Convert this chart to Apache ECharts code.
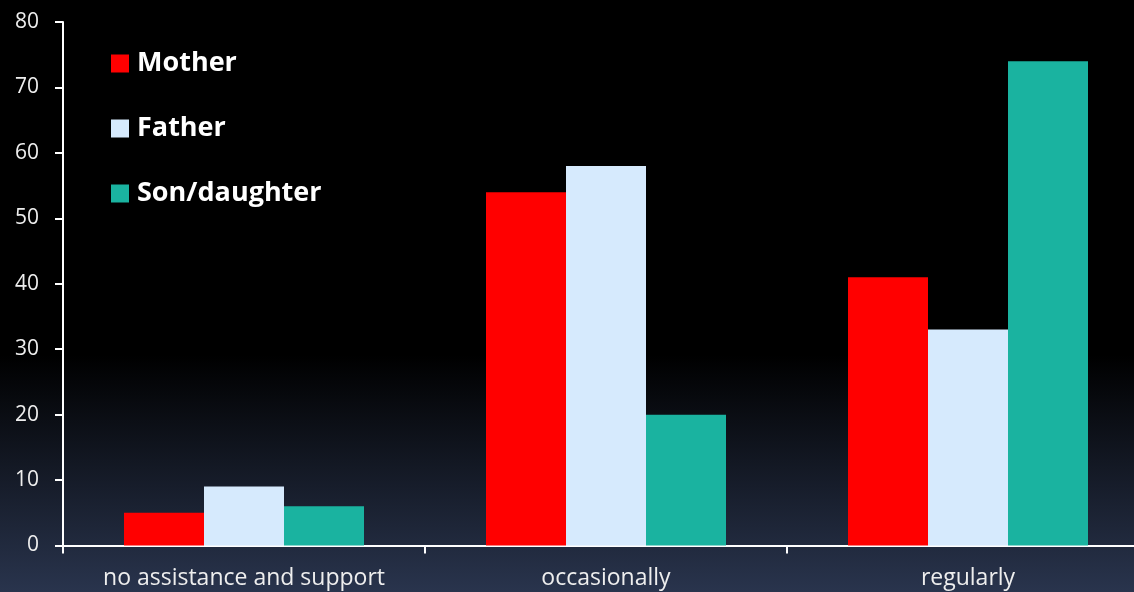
<!DOCTYPE html>
<html><head><meta charset="utf-8">
<script src="https://cdn.jsdelivr.net/npm/echarts@6/dist/echarts.min.js"></script>
<style>html,body{margin:0;padding:0;background:#000;overflow:hidden;}#c{width:1160px;height:592px;}</style>
</head><body><div id="c"></div>
<script>
const categories = ['no assistance and support', 'occasionally', 'regularly'];
const mother = [5, 54, 41];
const father = [9, 58, 33];
const sonDaughter = [6, 20, 74];
const seriesNames = ['Mother', 'Father', 'Son/daughter'];
const colors = ['#ff0000', '#d6eafd', '#1ab3a0'];

const chart = echarts.init(document.getElementById('c'));
const font = 'Open Sans';
chart.setOption({
  animation: false,
  backgroundColor: {
    type: 'linear', x: 0, y: 0, x2: 0, y2: 1,
    colorStops: [
      {offset: 0, color: '#000000'},
      {offset: 0.6, color: '#000000'},
      {offset: 1, color: '#29344d'}
    ]
  },
  grid: {left: 63, width: 1086, top: 22, height: 523.5, containLabel: false},
  legend: {
    orient: 'vertical', left: 111, top: 50, padding: 0,
    itemWidth: 18, itemHeight: 18, itemGap: 38,
    icon: 'rect',
    textStyle: {color: '#ffffff', fontFamily: font, fontWeight: 'bold', fontSize: 27, padding: [0,0,0,3]},
    data: seriesNames
  },
  xAxis: {
    type: 'category', data: categories,
    axisLine: {lineStyle: {color: '#ffffff', width: 2}},
    axisTick: {show: true, length: 8, lineStyle: {color: '#ffffff', width: 2}},
    axisLabel: {color: '#eeeeee', fontFamily: font, fontSize: 23, margin: 21, interval: 0}
  },
  yAxis: {
    type: 'value', min: 0, max: 80, interval: 10,
    axisLine: {show: true, lineStyle: {color: '#ffffff', width: 2}},
    axisTick: {show: true, length: 8, lineStyle: {color: '#ffffff', width: 2}},
    splitLine: {show: false},
    axisLabel: {color: '#eeeeee', fontFamily: font, fontSize: 21, margin: 24}
  },
  series: [
    {name: seriesNames[0], type: 'bar', data: mother, barWidth: 80, barGap: '0%', itemStyle: {color: colors[0]}},
    {name: seriesNames[1], type: 'bar', data: father, barWidth: 80, barGap: '0%', itemStyle: {color: colors[1]}},
    {name: seriesNames[2], type: 'bar', data: sonDaughter, barWidth: 80, barGap: '0%', itemStyle: {color: colors[2]}}
  ]
});
</script></body></html>
